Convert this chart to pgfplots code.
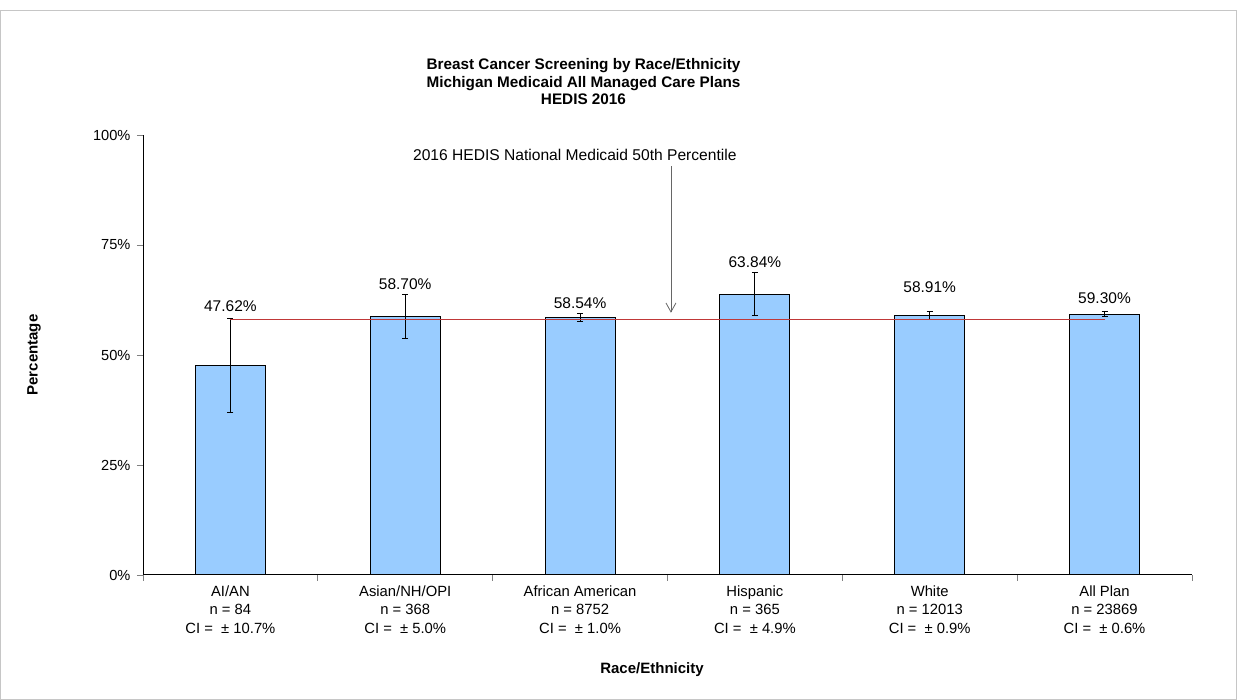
\documentclass[border=0pt]{standalone}
\usepackage{pgfplots}
\pgfplotsset{compat=1.18}
\usepackage{pgfplotstable}
\usepackage{fontspec}
\setmainfont{Liberation Sans}
\usetikzlibrary{arrows.meta}
\definecolor{barfill}{HTML}{99CCFF}
\definecolor{refred}{HTML}{C03838}
\pgfplotstableread{
x y err
0 47.62 10.7
1 58.70 5.0
2 58.54 1.0
3 63.84 4.9
4 58.91 0.9
5 59.30 0.6
}\datatable
\begin{document}
\begin{tikzpicture}
\useasboundingbox (0,0) rectangle (1237pt,700pt);
\draw[gray!45, line width=1pt] (0.5pt,0.5pt) rectangle (1236.5pt,689.5pt);
\begin{axis}[
  at={(143pt,125pt)}, anchor=south west,
  scale only axis, width=1049pt, height=440pt,
  xmin=-0.5, xmax=5.5, ymin=0, ymax=100,
  axis x line*=bottom, axis y line*=left,
  axis line style={black, line width=1pt, -},
  xtick={0,...,5},
  xticklabels={{AI/AN\\n = 84\\CI =\ \ ± 10.7\%},
               {Asian/NH/OPI\\n = 368\\CI =\ \ ± 5.0\%},
               {African American\\n = 8752\\CI =\ \ ± 1.0\%},
               {Hispanic\\n = 365\\CI =\ \ ± 4.9\%},
               {White\\n = 12013\\CI =\ \ ± 0.9\%},
               {All Plan\\n = 23869\\CI =\ \ ± 0.6\%}},
  xticklabel style={align=center, font=\fontsize{14.8}{18.5}\selectfont, yshift=-1pt},
  major x tick style={draw=none},
  minor xtick={-0.5,0.5,...,5.5},
  minor tick length=6pt,
  minor x tick style={gray, line width=0.8pt},
  ytick={0,25,50,75,100},
  yticklabel={\pgfmathprintnumber{\tick}\%},
  yticklabel style={font=\fontsize{14.6}{17}\selectfont, xshift=-3pt},
  /pgf/number format/assume math mode=true,
  major tick length=6pt,
  tick align=outside,
  y tick style={gray, line width=0.8pt},
  clip=false,
]
\addplot[ybar, bar width=0.4, fill=barfill, draw=black, line width=1pt,
  error bars/.cd, y dir=both, y explicit,
  error bar style={black, line width=1pt},
  error mark options={rotate=90, mark size=3pt, line width=1pt}]
  table[x=x, y=y, y error=err] {\datatable};
\addplot[refred, line width=1.1pt] coordinates {(0,58.0) (5,58.0)};
\draw[gray!80!black, line width=0.8pt, -{Straight Barb[length=9pt, width=10pt]}] (axis cs:2.52,92.9) -- (axis cs:2.52,59.6);
\node[font=\fontsize{15.6}{18}\selectfont] at (axis cs:1.97,95.4) {2016 HEDIS National Medicaid 50th Percentile};
\node[font=\fontsize{15.5}{18}\selectfont] at (axis cs:0,61.1) {47.62\%};
\node[font=\fontsize{15.5}{18}\selectfont] at (axis cs:1,66.1) {58.70\%};
\node[font=\fontsize{15.5}{18}\selectfont] at (axis cs:2,61.8) {58.54\%};
\node[font=\fontsize{15.5}{18}\selectfont] at (axis cs:3,71.1) {63.84\%};
\node[font=\fontsize{15.5}{18}\selectfont] at (axis cs:4,65.5) {58.91\%};
\node[font=\fontsize{15.5}{18}\selectfont] at (axis cs:5,63.0) {59.30\%};
\end{axis}
\node[align=center, font=\fontsize{15.3}{17.5}\selectfont\bfseries] at (583.5pt,618pt) {Breast Cancer Screening by Race/Ethnicity\\Michigan Medicaid All Managed Care Plans\\HEDIS 2016};
\node[font=\fontsize{15}{18}\selectfont\bfseries] at (652pt,30pt) {Race/Ethnicity};
\node[font=\fontsize{15}{18}\selectfont\bfseries, rotate=90] at (34pt,345pt) {Percentage};
\end{tikzpicture}
\end{document}
